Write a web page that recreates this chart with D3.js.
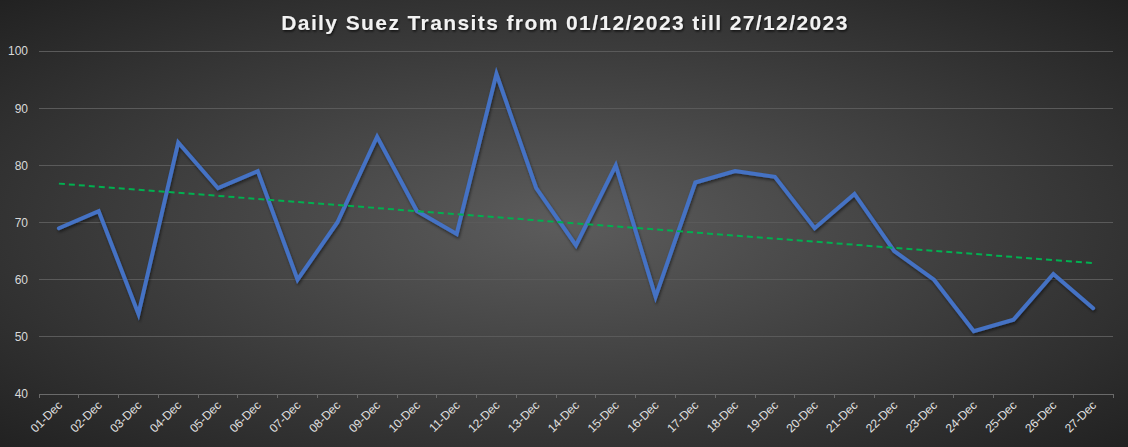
<!DOCTYPE html>
<html><head><meta charset="utf-8">
<script src="https://cdn.jsdelivr.net/npm/d3@7"></script>
<style>html,body{margin:0;padding:0;background:#333;}svg{display:block;}</style>
</head><body>
<svg id="chart" width="1128" height="447"></svg>
<script>
const categories = ["01-Dec","02-Dec","03-Dec","04-Dec","05-Dec","06-Dec","07-Dec","08-Dec","09-Dec","10-Dec","11-Dec","12-Dec","13-Dec","14-Dec","15-Dec","16-Dec","17-Dec","18-Dec","19-Dec","20-Dec","21-Dec","22-Dec","23-Dec","24-Dec","25-Dec","26-Dec","27-Dec"];
const transits = [69,72,54,84,76,79,60,70,85,72,68,96,76,66,80,57,77,79,78,69,75,65,60,51,53,61,55];
const trendCategories = ["01-Dec","27-Dec"];
const trendValues = [76.8, 62.9];
const yTicks = [40,50,60,70,80,90,100];
const titleText = "Daily Suez Transits from 01/12/2023 till 27/12/2023";

(function(){
const W = 1128, H = 447;
const svg = d3.select("#chart");
const defs = svg.append("defs");
const grad = defs.append("radialGradient").attr("id","bg").attr("cx","50%").attr("cy","50%").attr("r","75%");
grad.append("stop").attr("offset","0%").attr("stop-color","#5c5c5c");
grad.append("stop").attr("offset","100%").attr("stop-color","#1e1e1e");
const sh = defs.append("filter").attr("id","shadow").attr("x","-10%").attr("y","-10%").attr("width","120%").attr("height","130%");
sh.append("feDropShadow").attr("dx",1).attr("dy",2).attr("stdDeviation",1.5).attr("flood-color","#000").attr("flood-opacity",0.5);
const tsh = defs.append("filter").attr("id","tshadow").attr("x","-5%").attr("y","-30%").attr("width","110%").attr("height","160%");
tsh.append("feDropShadow").attr("dx",1).attr("dy",1.5).attr("stdDeviation",1).attr("flood-color","#000").attr("flood-opacity",0.7);

svg.append("rect").attr("width",W).attr("height",H).attr("fill","url(#bg)");

const mL = 39, mR = 1113, mT = 51, mB = 394;
const x = d3.scaleBand().domain(categories).range([mL,mR]).paddingInner(0).paddingOuter(0);
const y = d3.scaleLinear().domain([40,100]).range([mB,mT]);
const cx = c => x(c) + x.bandwidth()/2;

svg.append("g").selectAll("line").data(yTicks.filter(t=>t>40)).join("line")
  .attr("x1",mL).attr("x2",mR).attr("y1",d=>y(d)).attr("y2",d=>y(d))
  .attr("stroke","#5a5a5a").attr("stroke-width",1).attr("shape-rendering","crispEdges");

const yAxis = d3.axisLeft(y).tickValues(yTicks).tickSize(0).tickPadding(11);
const yg = svg.append("g").attr("transform",`translate(${mL},0)`).call(yAxis);
yg.select(".domain").remove();
yg.selectAll("text").attr("fill","#d9d9d9").style("font-family","'Liberation Sans',Arial,sans-serif").style("font-size","12px");

const boundaries = categories.map(c=>x(c)).concat([mR]);
const xg = svg.append("g");
xg.append("line").attr("x1",mL).attr("x2",mR).attr("y1",mB).attr("y2",mB)
  .attr("stroke","#6a6a6a").attr("stroke-width",1).attr("shape-rendering","crispEdges");
xg.selectAll("line.tk").data(boundaries).join("line").attr("class","tk")
  .attr("x1",d=>d).attr("x2",d=>d).attr("y1",mB).attr("y2",mB+4)
  .attr("stroke","#6a6a6a").attr("shape-rendering","crispEdges");
const xAxis = d3.axisBottom(x).tickSize(0).tickPadding(0);
const xa = svg.append("g").attr("transform",`translate(0,${mB})`).call(xAxis);
xa.select(".domain").remove();
xa.selectAll("text")
  .attr("fill","#e0e0e0").style("font-family","'Liberation Sans',Arial,sans-serif").style("font-size","12px")
  .attr("text-anchor","end").attr("dy","0")
  .attr("transform","translate(4,12) rotate(-45)");

const line = d3.line().x((d,i)=>cx(categories[i])).y(d=>y(d));
svg.append("path").datum(transits).attr("d",line)
  .attr("fill","none").attr("stroke","#4472C4").attr("stroke-width",4)
  .attr("stroke-linejoin","miter").attr("stroke-linecap","round").attr("filter","url(#shadow)");

svg.append("path").datum(trendValues)
  .attr("d",d3.line().x((d,i)=>cx(trendCategories[i])).y(d=>y(d)))
  .attr("fill","none").attr("stroke","#00B050").attr("stroke-width",2).attr("stroke-dasharray","6,4");

svg.append("text").attr("x",565).attr("y",30).attr("text-anchor","middle")
  .attr("fill","#f2f2f2").style("font-family","'Liberation Sans',Arial,sans-serif")
  .style("font-size","21px").style("font-weight","bold").style("letter-spacing","1.4px")
  .attr("filter","url(#tshadow)").text(titleText);
})();
</script>
</body></html>
